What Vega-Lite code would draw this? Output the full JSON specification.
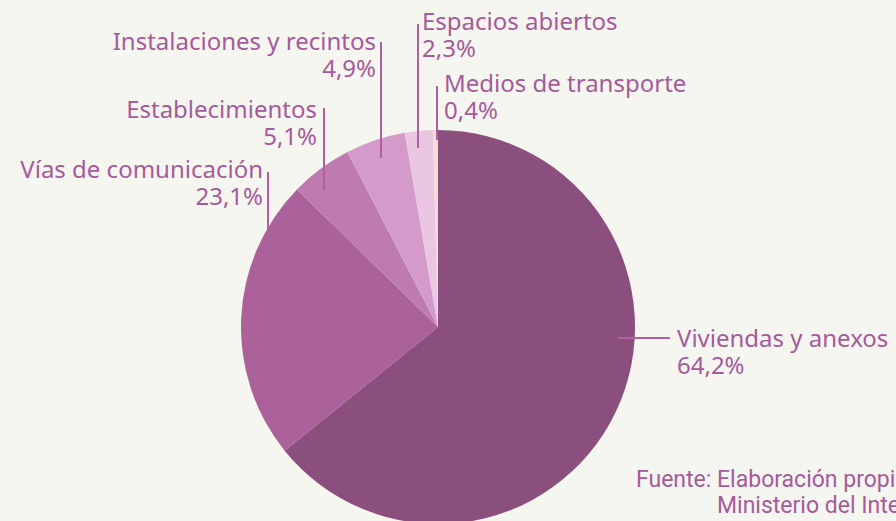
{
  "$schema": "https://vega.github.io/schema/vega-lite/v6.json",
  "width": 876,
  "height": 654,
  "autosize": {"type": "none"},
  "padding": {"left": 0, "top": 0, "right": 20, "bottom": 0},
  "background": "#f5f6ef",
  "config": {"view": {"stroke": null}, "font": "Noto Sans"},
  "datasets": {
    "pie": [
      {"cat": "Viviendas y anexos", "pct": 64.2, "orden": 1},
      {"cat": "Vías de comunicación", "pct": 23.1, "orden": 2},
      {"cat": "Establecimientos", "pct": 5.1, "orden": 3},
      {"cat": "Instalaciones y recintos", "pct": 4.9, "orden": 4},
      {"cat": "Espacios abiertos", "pct": 2.3, "orden": 5},
      {"cat": "Medios de transporte", "pct": 0.4, "orden": 6}
    ],
    "leaders": [
      {"cat": "Viviendas y anexos", "u0": 0.9137, "v0": -0.0558, "u1": 1.1777, "v1": -0.0558},
      {"cat": "Vías de comunicación", "u0": -0.8629, "v0": 0.7868, "u1": -0.8629, "v1": 0.4822},
      {"cat": "Establecimientos", "u0": -0.5787, "v0": 1.1117, "u1": -0.5787, "v1": 0.6904},
      {"cat": "Instalaciones y recintos", "u0": -0.2893, "v0": 1.4467, "u1": -0.2893, "v1": 0.8579},
      {"cat": "Espacios abiertos", "u0": -0.1015, "v0": 1.5381, "u1": -0.1015, "v1": 0.9086},
      {"cat": "Medios de transporte", "u0": -0.0051, "v0": 1.2234, "u1": -0.0051, "v1": 0.9492}
    ],
    "labelsRight": [
      {"label": "Vías de comunicación", "pct": "23,1%", "u": -0.8883, "v": 0.7563},
      {"label": "Establecimientos", "pct": "5,1%", "u": -0.6142, "v": 1.0609},
      {"label": "Instalaciones y  recintos", "pct": "4,9%", "u": -0.3147, "v": 1.4061}
    ],
    "labelsLeft": [
      {"label": "Viviendas y anexos", "pct": "64,2%", "u": 1.2132, "v": -0.1015},
      {"label": "Espacios abiertos", "pct": "2,3%", "u": -0.0812, "v": 1.5076},
      {"label": "Medios de transporte", "pct": "0,4%", "u": 0.0305, "v": 1.1929}
    ],
    "source": [
      {"text": "Fuente: Elaboración propia con datos del", "u": 1.0051, "v": -0.8122},
      {"text": "Ministerio del Interior", "u": 1.4162, "v": -0.9442}
    ]
  },
  "layer": [
    {
      "data": {"name": "pie"},
      "mark": {"type": "arc", "outerRadius": 197, "strokeWidth": 0},
      "encoding": {
        "theta": {"field": "pct", "type": "quantitative", "stack": true},
        "order": {"field": "orden", "type": "quantitative"},
        "color": {
          "field": "cat",
          "type": "nominal",
          "legend": null,
          "scale": {
            "domain": ["Viviendas y anexos", "Vías de comunicación", "Establecimientos", "Instalaciones y recintos", "Espacios abiertos", "Medios de transporte"],
            "range": ["#8b4f7e", "#ab6199", "#be7bb0", "#d49bca", "#eac6e3", "#f5dcd8"]
          }
        }
      }
    },
    {
      "data": {"name": "leaders"},
      "mark": {"type": "rule", "color": "#b0609f", "strokeWidth": 2},
      "encoding": {
        "x": {"field": "u0", "type": "quantitative", "axis": null, "scale": {"domain": [-2.22335, 2.22335], "nice": false, "zero": false}},
        "y": {"field": "v0", "type": "quantitative", "axis": null, "scale": {"domain": [-1.6599, 1.6599], "nice": false, "zero": false}},
        "x2": {"field": "u1"},
        "y2": {"field": "v1"}
      }
    },
    {
      "data": {"name": "labelsRight"},
      "mark": {"type": "text", "align": "right", "baseline": "alphabetic", "fontSize": 24, "color": "#a65a9b"},
      "encoding": {
        "x": {"field": "u", "type": "quantitative", "axis": null, "scale": {"domain": [-2.22335, 2.22335], "nice": false, "zero": false}},
        "y": {"field": "v", "type": "quantitative", "axis": null, "scale": {"domain": [-1.6599, 1.6599], "nice": false, "zero": false}},
        "text": {"field": "label"}
      }
    },
    {
      "data": {"name": "labelsRight"},
      "mark": {"type": "text", "align": "right", "baseline": "alphabetic", "fontSize": 24, "color": "#a65a9b", "dy": 27},
      "encoding": {
        "x": {"field": "u", "type": "quantitative", "axis": null, "scale": {"domain": [-2.22335, 2.22335], "nice": false, "zero": false}},
        "y": {"field": "v", "type": "quantitative", "axis": null, "scale": {"domain": [-1.6599, 1.6599], "nice": false, "zero": false}},
        "text": {"field": "pct"}
      }
    },
    {
      "data": {"name": "labelsLeft"},
      "mark": {"type": "text", "align": "left", "baseline": "alphabetic", "fontSize": 24, "color": "#a65a9b"},
      "encoding": {
        "x": {"field": "u", "type": "quantitative", "axis": null, "scale": {"domain": [-2.22335, 2.22335], "nice": false, "zero": false}},
        "y": {"field": "v", "type": "quantitative", "axis": null, "scale": {"domain": [-1.6599, 1.6599], "nice": false, "zero": false}},
        "text": {"field": "label"}
      }
    },
    {
      "data": {"name": "labelsLeft"},
      "mark": {"type": "text", "align": "left", "baseline": "alphabetic", "fontSize": 24, "color": "#a65a9b", "dy": 27},
      "encoding": {
        "x": {"field": "u", "type": "quantitative", "axis": null, "scale": {"domain": [-2.22335, 2.22335], "nice": false, "zero": false}},
        "y": {"field": "v", "type": "quantitative", "axis": null, "scale": {"domain": [-1.6599, 1.6599], "nice": false, "zero": false}},
        "text": {"field": "pct"}
      }
    },
    {
      "data": {"name": "source"},
      "mark": {"type": "text", "align": "left", "baseline": "alphabetic", "fontSize": 23, "font": "Roboto", "color": "#a65a9b"},
      "encoding": {
        "x": {"field": "u", "type": "quantitative", "axis": null, "scale": {"domain": [-2.22335, 2.22335], "nice": false, "zero": false}},
        "y": {"field": "v", "type": "quantitative", "axis": null, "scale": {"domain": [-1.6599, 1.6599], "nice": false, "zero": false}},
        "text": {"field": "text"}
      }
    }
  ]
}
